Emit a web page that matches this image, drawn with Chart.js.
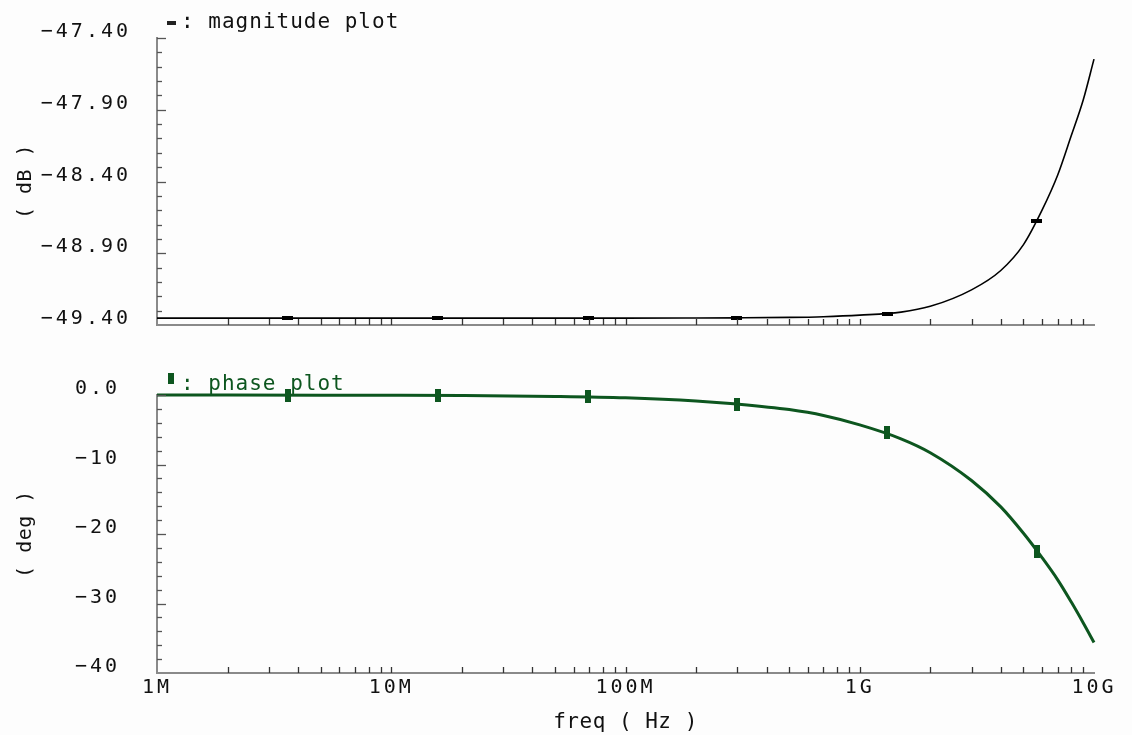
<!DOCTYPE html>
<html>
<head>
<meta charset="utf-8">
<script src="https://cdn.jsdelivr.net/npm/chart.js@4/dist/chart.umd.min.js"></script>
<style>
html, body { margin: 0; padding: 0; background: #ffffff; }
#wrap { position: relative; width: 1132px; height: 735px; background: #fdfdfd; overflow: hidden; }
#wrap canvas { position: absolute; left: 0; }
</style>
</head>
<body>
<div id="wrap">
  <canvas id="mag" width="1132" height="345" style="top:0px"></canvas>
  <canvas id="phase" width="1132" height="390" style="top:345px"></canvas>
</div>
<script>
// ---------------- data ----------------
const freqHz = [1e6, 2e6, 5e6, 1e7, 2e7, 5e7, 1e8, 2e8, 3e8, 5e8, 7e8, 1e9, 1.5e9, 2e9, 3e9, 4e9, 5e9, 6e9, 7e9, 8e9, 9e9, 1e10];
const magnitudeDb = [-49.352, -49.352, -49.352, -49.352, -49.352, -49.352, -49.352, -49.351, -49.350, -49.347, -49.342, -49.331, -49.310, -49.270, -49.155, -49.020, -48.840, -48.600, -48.355, -48.080, -47.830, -47.547];
const phaseDeg = [0.0, -0.01, -0.02, -0.04, -0.08, -0.2, -0.4, -0.85, -1.3, -2.1, -2.95, -4.3, -6.3, -8.3, -12.3, -16.1, -19.9, -23.4, -26.6, -29.8, -32.8, -35.6];
const markerFreqHz = [3.62e6, 1.58e7, 6.94e7, 2.99e8, 1.31e9, 5.71e9];
const magnitudeMarkerDb = [-49.352, -49.352, -49.352, -49.350, -49.322, -48.674];
const phaseMarkerDeg = [-0.01, -0.06, -0.28, -1.3, -5.4, -22.5];

const freqTickValues = [1e6, 1e7, 1e8, 1e9, 1e10];
const freqTickLabels = ['1M', '10M', '100M', '1G', '10G'];
const magTickValues = [-49.4, -48.9, -48.4, -47.9, -47.4];
const magTickLabels = ['\u221249.40', '\u221248.90', '\u221248.40', '\u221247.90', '\u221247.40'];
const phaseTickValues = [-40, -30, -20, -10, 0];
const phaseTickLabels = ['\u221240', '\u221230', '\u221220', '\u221210', '0.0'];

const magLabel = 'magnitude plot';
const phaseLabel = 'phase plot';
const xTitle = 'freq ( Hz )';
const magTitle = '( dB )';
const phaseTitle = '( deg )';

// ---------------- styling ----------------
const GREEN = '#0d561f';
const AXIS = '#8a8a8a';
const TEXT = '#111111';
const FONT = 'DejaVu Sans Mono';

function rectImage(w, h, color) {
  const c = document.createElement('canvas');
  c.width = w; c.height = h;
  const g = c.getContext('2d');
  g.fillStyle = color; g.fillRect(0, 0, w, h);
  return c;
}
const magMarker = rectImage(11, 4, '#000000');
const phaseMarker = rectImage(6, 13, GREEN);

// letter spacing for tick labels (drawn after datasets), normal for titles
const spacingPlugin = {
  id: 'spacing',
  beforeDraw(chart) { chart.ctx.letterSpacing = '0.5px'; },
  afterDatasetsDraw(chart) { chart.ctx.letterSpacing = '3px'; },
  afterDraw(chart) { chart.ctx.letterSpacing = '0px'; }
};

// inward tick marks drawn from the library's scales
const inwardTicks = {
  id: 'inwardTicks',
  afterDraw(chart, args, o) {
    const ctx = chart.ctx, xs = chart.scales.x, ys = chart.scales.y, a = chart.chartArea;
    ctx.save();
    ctx.letterSpacing = '0px';
    ctx.lineWidth = 1.3;
    ctx.strokeStyle = '#333';
    const dec = xs.ticks.map(t => t.value);
    for (let i = 0; i < dec.length - 1; i++) {
      for (let k = 1; k <= 9; k++) {
        if (i === 0 && k === 1) continue;
        const px = Math.round(xs.getPixelForValue(dec[i] * k)) + 0.5;
        ctx.beginPath(); ctx.moveTo(px, a.bottom); ctx.lineTo(px, a.bottom - 6); ctx.stroke();
      }
    }
    ctx.strokeStyle = '#555';
    const yt = ys.ticks.map(t => t.value);
    for (let i = 0; i < yt.length; i++) {
      const py = Math.round(ys.getPixelForValue(yt[i])) + 0.5;
      if (i > 0) { ctx.beginPath(); ctx.moveTo(a.left, py); ctx.lineTo(a.left + 9, py); ctx.stroke(); }
      if (i < yt.length - 1) {
        for (let m = 1; m < 5; m++) {
          const v = yt[i] + (yt[i + 1] - yt[i]) * m / 5;
          const pm = Math.round(ys.getPixelForValue(v)) + 0.5;
          ctx.beginPath(); ctx.moveTo(a.left, pm); ctx.lineTo(a.left + 5, pm); ctx.stroke();
        }
      }
    }
    ctx.restore();
  }
};

// "marker: label" legend in the plot's top-left corner
const plotLegend = {
  id: 'plotLegend',
  afterDraw(chart, args, o) {
    const ctx = chart.ctx, a = chart.chartArea;
    ctx.save();
    ctx.letterSpacing = '1px';
    const img = o.marker;
    ctx.drawImage(img, a.left + 14 - img.width / 2, a.top + o.markerDy - img.height / 2, img.width, img.height);
    ctx.font = '21px "' + FONT + '"';
    ctx.fillStyle = o.color;
    ctx.textBaseline = 'alphabetic';
    ctx.textAlign = 'left';
    ctx.fillText(': ' + chart.data.datasets[0].label, a.left + 24, a.top + o.baselineDy);
    ctx.restore();
  }
};

function logX(showLabels, height) {
  return {
    type: 'logarithmic', min: freqTickValues[0], max: freqTickValues[freqTickValues.length - 1],
    afterBuildTicks: s => { s.ticks = freqTickValues.map(v => ({ value: v })); },
    afterFit: s => { s.height = height; },
    grid: { display: false, drawTicks: false },
    border: { display: true, color: AXIS, width: 2 },
    ticks: {
      display: showLabels, autoSkip: false, maxRotation: 0, padding: 3, z: 1,
      color: TEXT, font: { family: FONT, size: 20 },
      callback: (v, i) => freqTickLabels[i]
    },
    title: {
      display: showLabels, text: xTitle, color: TEXT,
      font: { family: FONT, size: 21 }, padding: { top: 4, bottom: 0 }
    }
  };
}

function linY(values, labels, title, pad) {
  return {
    type: 'linear', min: values[0], max: values[values.length - 1],
    afterBuildTicks: s => { s.ticks = values.map(v => ({ value: v })); },
    afterFit: s => { s.width = 157; s.paddingTop = 0; s.paddingBottom = 0; },
    grid: { display: false, drawTicks: false },
    border: { display: true, color: AXIS, width: 2 },
    ticks: {
      autoSkip: false, padding: pad, labelOffset: -6, z: 1,
      color: TEXT, font: { family: FONT, size: 20 },
      callback: (v, i) => labels[i]
    },
    title: {
      display: true, text: title, color: TEXT,
      font: { family: FONT, size: 20 }, padding: { top: 14, bottom: 0 }
    }
  };
}

const common = {
  responsive: false, animation: false, devicePixelRatio: 1,
  events: [],
  elements: { line: { tension: 0.4, cubicInterpolationMode: 'monotone' } }
};

new Chart(document.getElementById('mag'), {
  type: 'line',
  data: {
    datasets: [
      { label: magLabel, data: freqHz.map((f, i) => ({ x: f, y: magnitudeDb[i] })),
        borderColor: '#000', borderWidth: 1.6, pointRadius: 0, fill: false, clip: false, order: 1 },
      { label: 'magnitude markers', data: markerFreqHz.map((f, i) => ({ x: f, y: magnitudeMarkerDb[i] })),
        showLine: false, pointStyle: magMarker, pointRadius: 5, clip: false, order: 0 }
    ]
  },
  options: Object.assign({}, common, {
    layout: { padding: { top: 38, right: 38, left: 0, bottom: 0 } },
    plugins: {
      legend: { display: false }, tooltip: { enabled: false },
      plotLegend: { marker: rectImage(9, 4, '#222'), markerDy: -15.5, baselineDy: -10, color: '#111' }
    },
    scales: { x: logX(false, 20), y: linY(magTickValues, magTickLabels, magTitle, 26) }
  }),
  plugins: [spacingPlugin, inwardTicks, plotLegend]
});

new Chart(document.getElementById('phase'), {
  type: 'line',
  data: {
    datasets: [
      { label: phaseLabel, data: freqHz.map((f, i) => ({ x: f, y: phaseDeg[i] })),
        borderColor: GREEN, borderWidth: 3, pointRadius: 0, fill: false, borderJoinStyle: 'round', clip: false, order: 1 },
      { label: 'phase markers', data: markerFreqHz.map((f, i) => ({ x: f, y: phaseMarkerDeg[i] })),
        showLine: false, pointStyle: phaseMarker, pointRadius: 5, clip: false, order: 0 }
    ]
  },
  options: Object.assign({}, common, {
    layout: { padding: { top: 50, right: 38, left: 0, bottom: 0 } },
    plugins: {
      legend: { display: false }, tooltip: { enabled: false },
      plotLegend: { marker: rectImage(6, 11, GREEN), markerDy: -16.5, baselineDy: -5, color: GREEN }
    },
    scales: { x: logX(true, 62), y: linY(phaseTickValues, phaseTickLabels, phaseTitle, 37) }
  }),
  plugins: [spacingPlugin, inwardTicks, plotLegend]
});
</script>
</body>
</html>
